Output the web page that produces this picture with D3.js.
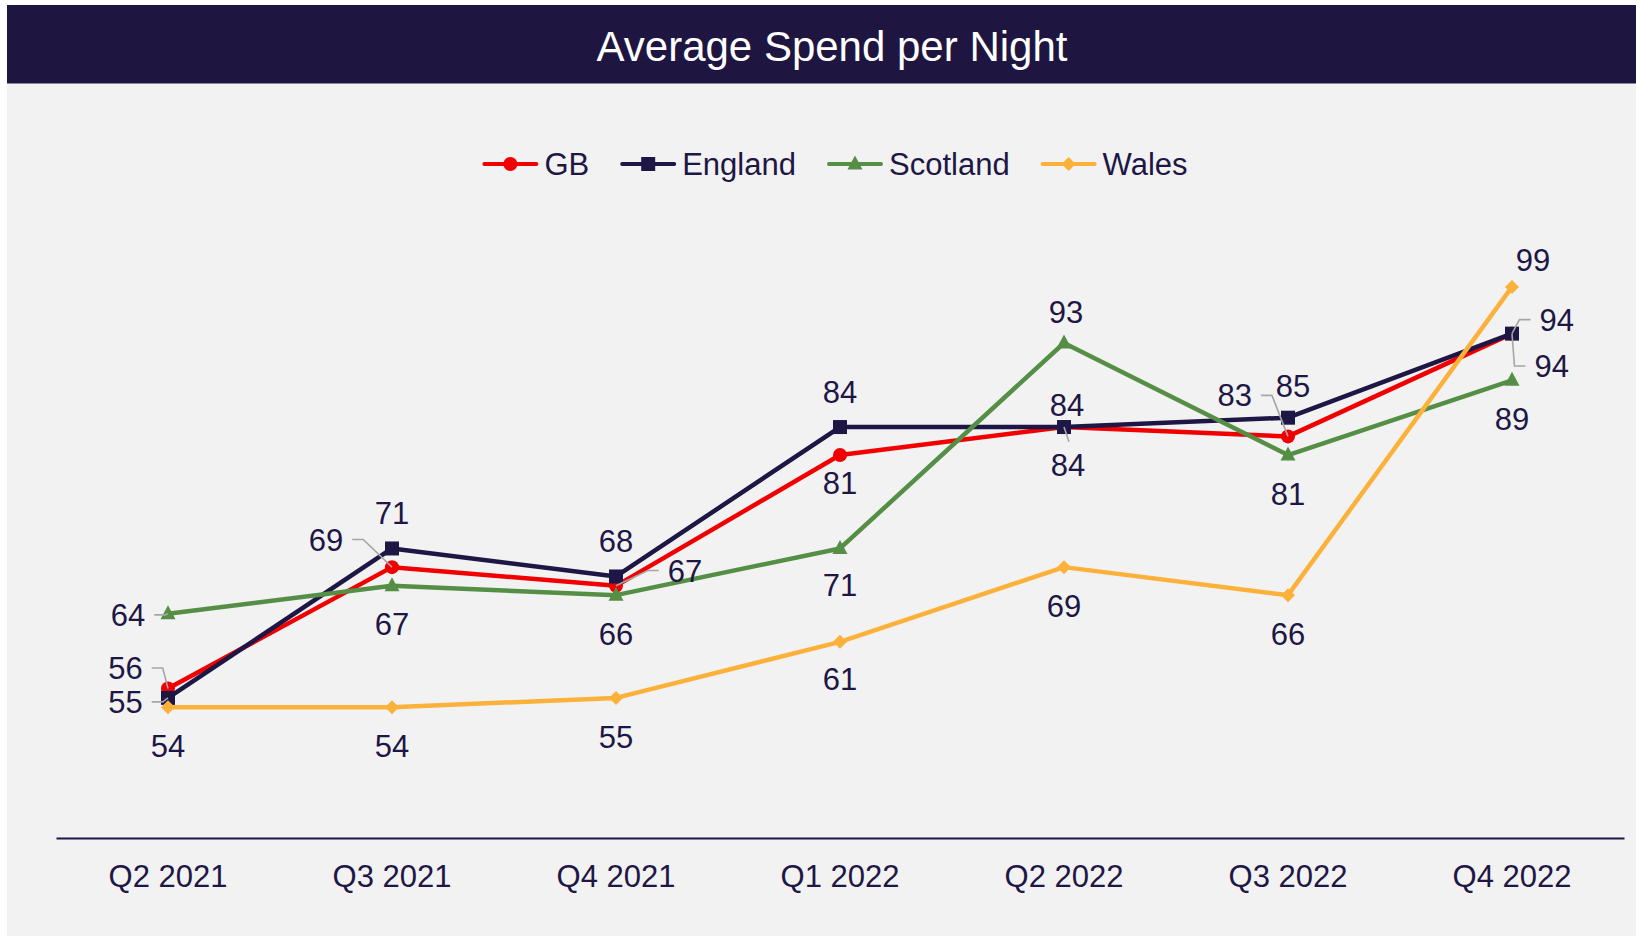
<!DOCTYPE html>
<html>
<head>
<meta charset="utf-8">
<script src="https://cdn.jsdelivr.net/npm/d3@7"></script>
<style>
  html, body { margin: 0; padding: 0; background: #ffffff; }
  svg { display: block; }
  text { font-family: "Liberation Sans", Arial, sans-serif; }
</style>
</head>
<body>
<svg id="chart" width="1636" height="938"></svg>
<script>
// Quarterly average spend per night (£)
const quarters = ["Q2 2021", "Q3 2021", "Q4 2021", "Q1 2022", "Q2 2022", "Q3 2022", "Q4 2022"];
const gbValues       = [56, 69, 67, 81, 84, 83, 94];
const englandValues  = [55, 71, 68, 84, 84, 85, 94];
const scotlandValues = [64, 67, 66, 71, 93, 81, 89];
const walesValues    = [54, 54, 55, 61, 69, 66, 99];
const seriesNames = ["GB", "England", "Scotland", "Wales"];

// Label placement around each point: [dx, dy, leader] (leader: 1 = elbow, 2 = straight)
const labelPlacement = {
  GB:       [[-42.5, -20.6, 1], [-66, -27.6, 1], [69, -15.3, 1], [0, 28, 0], [4, 37.7, 2], [-53.3, -41, 1], [39.7, 32.4, 1]],
  England:  [[-42.5, 4, 1], [0, -36, 0], [0, -35.5, 0], [0, -35.6, 0], [3, -22, 0], [5, -32, 0], [44.7, -14, 1]],
  Scotland: [[-40, 1, 1], [0, 38.4, 0], [0, 39, 0], [0, 36, 0], [2, -30.7, 0], [0, 38.5, 0], [0, 38.7, 0]],
  Wales:    [[0, 38.5, 0], [0, 38.6, 0], [0, 39.5, 0], [0, 37.3, 0], [0, 38.7, 0], [0, 39, 0], [21, -27, 0]]
};

const series = [
  { name: "GB",       values: gbValues,       color: "#f00000", symbol: "circle" },
  { name: "England",  values: englandValues,  color: "#1e1745", symbol: "square" },
  { name: "Scotland", values: scotlandValues, color: "#558e45", symbol: "triangle" },
  { name: "Wales",    values: walesValues,    color: "#fbb13a", symbol: "diamond" }
];

const navy = "#1e1745";
const fontSize = 31;
const svg = d3.select("#chart");

// panel and title banner
svg.append("rect").attr("x", 7).attr("y", 5).attr("width", 1629).attr("height", 931).attr("fill", "#f2f2f2");
svg.append("rect").attr("x", 7).attr("y", 5).attr("width", 1629).attr("height", 78.5).attr("fill", "#1e1641");
svg.append("text").attr("x", 832).attr("y", 61).attr("text-anchor", "middle")
  .attr("font-size", 42).attr("fill", "#ffffff").text("Average Spend per Night");

// scales
const x = d3.scaleBand().domain(quarters).range([56, 1624]);
const cx = q => x(q) + x.bandwidth() / 2;
const y = d3.scaleLinear().domain([40, 100]).range([838, 277.6]);

// category axis
const axis = svg.append("g").attr("transform", "translate(0,838)")
  .call(d3.axisBottom(x).tickSize(0).tickPadding(27));
axis.select(".domain").attr("stroke", navy).attr("stroke-width", 2.2);
axis.selectAll("text").attr("font-size", fontSize).attr("fill", navy)
  .attr("font-family", "\"Liberation Sans\", Arial, sans-serif");

// marker shapes
function markerPath(kind) {
  switch (kind) {
    case "circle":   return d3.symbol(d3.symbolCircle, Math.PI * 7 * 7)();
    case "square":   return "M-7,-7H7V7H-7Z";
    case "triangle": return "M0,-8.5L7.5,5.5H-7.5Z";
    case "diamond":  return "M0,-7L7,0L0,7L-7,0Z";
  }
}

const line = d3.line().x(d => cx(d.q)).y(d => y(d.v));

const plot = svg.append("g");
series.forEach(s => {
  const pts = quarters.map((q, i) => ({ q, v: s.values[i] }));
  const g = plot.append("g");
  g.append("path").datum(pts).attr("d", line)
    .attr("fill", "none").attr("stroke", s.color).attr("stroke-width", 4.5)
    .attr("stroke-linejoin", "round");
  g.selectAll("path.m").data(pts).join("path").attr("class", "m")
    .attr("transform", d => `translate(${cx(d.q)},${y(d.v)})`)
    .attr("d", markerPath(s.symbol)).attr("fill", s.color);
});

// data labels with leader lines
const labels = svg.append("g");
series.forEach(s => {
  s.values.forEach((v, i) => {
    const px = cx(quarters[i]), py = y(v);
    const [dx, dy, leader] = labelPlacement[s.name][i];
    const lx = px + dx, ly = py + dy;
    const txt = String(v);
    const halfW = txt.length * 0.556 * fontSize / 2;
    if (leader === 1) {
      const dir = dx < 0 ? 1 : -1;           // towards the point
      const sx = lx + dir * (halfW + 9);
      const kx = sx + dir * 11;
      labels.append("path")
        .attr("d", `M${sx},${ly}H${kx}L${px},${py}`)
        .attr("fill", "none").attr("stroke", "#a6a6a6").attr("stroke-width", 1.6);
    } else if (leader === 2) {
      labels.append("path")
        .attr("d", `M${lx + 1},${ly - 23}L${px},${py}`)
        .attr("fill", "none").attr("stroke", "#a6a6a6").attr("stroke-width", 1.6);
    }
    labels.append("text").attr("x", lx).attr("y", ly + 0.358 * fontSize)
      .attr("text-anchor", "middle").attr("font-size", fontSize).attr("fill", navy).text(txt);
  });
});

// legend
const legend = svg.append("g");
const lineLen = 52, gapText = 8, gapItem = 33;
let cursor = 0;
const items = [];
series.forEach(s => {
  const g = legend.append("g");
  g.append("line").attr("x1", 0).attr("x2", lineLen).attr("y1", 0).attr("y2", 0)
    .attr("stroke", s.color).attr("stroke-width", 4).attr("stroke-linecap", "round");
  g.append("path").attr("transform", `translate(${lineLen / 2},0)`)
    .attr("d", markerPath(s.symbol)).attr("fill", s.color);
  const t = g.append("text").attr("x", lineLen + gapText).attr("y", 0.358 * fontSize)
    .attr("font-size", fontSize).attr("fill", navy).text(s.name);
  const w = lineLen + gapText + t.node().getComputedTextLength();
  g.attr("transform", `translate(${cursor},0)`);
  items.push(g);
  cursor += w + gapItem;
});
const legendWidth = cursor - gapItem;
legend.attr("transform", `translate(${836 - legendWidth / 2},164)`);
</script>
</body>
</html>
